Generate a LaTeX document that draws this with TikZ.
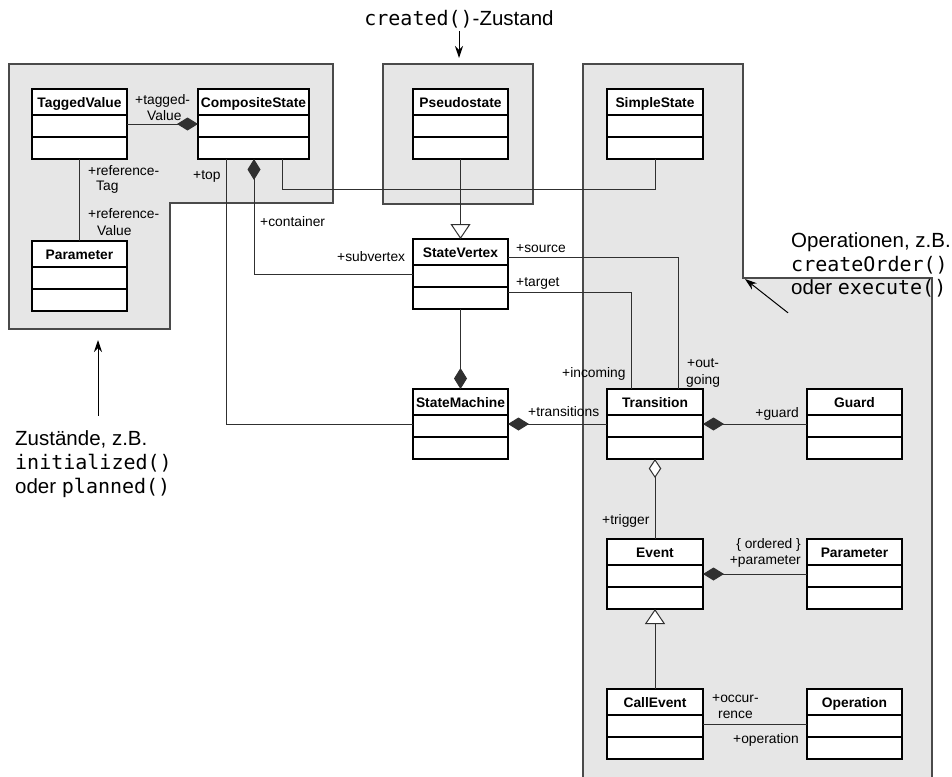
\documentclass[tikz,border=0pt]{standalone}
\usepackage{fontspec}
\setmainfont{Liberation Sans}
\newfontfamily\monofont{DejaVu Sans Mono}
\usetikzlibrary{arrows.meta,calc}

\definecolor{pkgfill}{HTML}{E6E6E6}
\definecolor{pkgline}{HTML}{4A4A4A}
\definecolor{wirecol}{HTML}{303030}

\newcommand\mcode[1]{{\monofont\fontsize{20}{24}\selectfont #1}}

\tikzset{
  diafill/.tip={Diamond[length=21pt,width=13pt]},
  diaopen/.tip={Diamond[length=19pt,width=12.5pt,fill=white]},
  gentri/.tip={Triangle[length=15pt,width=20pt,fill=white]},
  annhead/.tip={Stealth[length=12pt,width=8pt]},
  pkg/.style={fill=pkgfill, draw=pkgline, line width=1.3pt},
  clsbox/.style={draw=black, fill=white, line width=1.2pt, minimum height=70pt,
                 inner sep=0pt, outer sep=0pt},
  clstitle/.style={font=\fontsize{13.8}{15}\selectfont\bfseries, inner sep=0pt},
  clsline/.style={draw=black, line width=1.2pt},
  wire/.style={draw=wirecol, line width=1pt},
  role/.style={font=\fontsize{13.8}{15}\selectfont, inner sep=0pt},
  annot/.style={font=\fontsize{20.5}{24}\selectfont, inner sep=0pt},
  annarrow/.style={draw=black, line width=1pt, arrows={-annhead}},
}

% UML class box: name, left, top, width, title
\newcommand\umlclass[5]{%
  \node[clsbox, minimum width=#4pt, anchor=north west] (#1) at (#2,#3) {};
  \node[clstitle, anchor=base] (#1-name) at ($(#1.north)+(0,18)$) {#5};
  \draw[clsline] ($(#1.north west)+(0,26)$) -- ($(#1.north east)+(0,26)$);
  \draw[clsline] ($(#1.north west)+(0,48)$) -- ($(#1.north east)+(0,48)$);
}

\begin{document}
\begin{tikzpicture}[x=1pt,y=-1pt]
\useasboundingbox (0,0) rectangle (952,776);

% packages
\draw[pkg] (9,64) -- (333,64) -- (333,203) -- (170,203) -- (170,329) -- (9,329) -- cycle;
\draw[pkg] (383,64) rectangle (533,204);
\draw[pkg] (583,800) -- (583,64) -- (743,64) -- (743,278) -- (932,278) -- (932,800);

% classes
\umlclass{tv}{32}{89}{95}{TaggedValue}
\umlclass{cs}{198}{89}{111}{CompositeState}
\umlclass{par1}{32}{241}{95}{Parameter}
\umlclass{ps}{413}{89}{95}{Pseudostate}
\umlclass{ss}{607}{89}{96}{SimpleState}
\umlclass{sv}{413}{239}{95}{StateVertex}
\umlclass{sm}{413}{389}{95}{StateMachine}
\umlclass{tr}{607}{389}{96}{Transition}
\umlclass{gd}{807}{389}{95}{Guard}
\umlclass{ev}{607}{539}{96}{Event}
\umlclass{par2}{807}{539}{95}{Parameter}
\umlclass{ce}{607}{689}{96}{CallEvent}
\umlclass{op}{807}{689}{95}{Operation}

% associations
\draw[wire, arrows={-diafill}] (tv.east) -- (cs.west);
\draw[wire] (tv.south) -- (par1.north);
\draw[wire] ([xshift=28pt]cs.south west) |- (sm.west);
\draw[wire, arrows={diafill-}] ([xshift=56pt]cs.south west) |- (sv.west);
\draw[wire] ([xshift=84pt]cs.south west) -- ++(0,30) -| (ss.south);
\draw[wire, arrows={-gentri}] (ps.south) -- (sv.north);
\draw[wire] ([yshift=-18pt]sv.north east) -| ([xshift=71pt]tr.north west);
\draw[wire] ([yshift=-53pt]sv.north east) -| ([xshift=24pt]tr.north west);
\draw[wire, arrows={-diafill}] (sv.south) -- (sm.north);
\draw[wire, arrows={diafill-}] (sm.east) -- (tr.west);
\draw[wire, arrows={diafill-}] (tr.east) -- (gd.west);
\draw[wire, arrows={diaopen-}] (tr.south) -- (ev.north);
\draw[wire, arrows={diafill-}] (ev.east) -- (par2.west);
\draw[wire, arrows={-gentri}] (ce.north) -- (ev.south);
\draw[wire] (ce.east) -- (op.west);

% role names
\node[role, anchor=base west] (lb-tv1) at (135,104) {+tagged-};
\node[role, anchor=base west] (lb-tv2) at (147,120) {Value};
\node[role, anchor=base west] (lb-rt1) at (88,175) {+reference-};
\node[role, anchor=base west] (lb-rt2) at (96,190) {Tag};
\node[role, anchor=base west] (lb-rv1) at (88,218) {+reference-};
\node[role, anchor=base west] (lb-rv2) at (97,235) {Value};
\node[role, anchor=base west] (lb-top) at (193,179) {+top};
\node[role, anchor=base west] (lb-cont) at (260,226) {+container};
\node[role, anchor=base west] (lb-subv) at (337,261) {+subvertex};
\node[role, anchor=base west] (lb-src) at (516,252) {+source};
\node[role, anchor=base west] (lb-tgt) at (516,286) {+target};
\node[role, anchor=base west] (lb-inc) at (562,377) {+incoming};
\node[role, anchor=base west] (lb-out1) at (687,367) {+out-};
\node[role, anchor=base west] (lb-out2) at (686,384) {going};
\node[role, anchor=base west] (lb-trans) at (528,416) {+transitions};
\node[role, anchor=base east] (lb-guard) at (799,417) {+guard};
\node[role, anchor=base west] (lb-trig) at (602,524) {+trigger};
\node[role, anchor=base east] (lb-ord) at (801,548) {\{ ordered \}};
\node[role, anchor=base east] (lb-par) at (801,564) {+parameter};
\node[role, anchor=base west] (lb-occ1) at (712,702) {+occur-};
\node[role, anchor=base west] (lb-occ2) at (718,718) {rence};
\node[role, anchor=base east] (lb-oper) at (799,743) {+operation};

% notes
\node[annot, anchor=base] (note-top) at (459,26) {\mcode{created()}-Zustand};
\coordinate (note-top-tip) at (459,58);
\draw[annarrow, shorten <=2pt] (note-top.south) -- (note-top-tip);

\node[annot, anchor=base west] (note-l1) at (15,445) {Zustände, z.B.};
\node[annot, anchor=base west] (note-l2) at (15,469) {\mcode{initialized()}};
\node[annot, anchor=base west] (note-l3) at (15,493) {oder \mcode{planned()}};
\coordinate (note-l-tip) at (98,340);
\draw[annarrow, shorten <=14pt] (note-l1.north -| note-l-tip) -- (note-l-tip);

\node[annot, anchor=base west] (note-r1) at (791,247) {Operationen, z.B.};
\node[annot, anchor=base west] (note-r2) at (791,271) {\mcode{createOrder()}};
\node[annot, anchor=base west] (note-r3) at (791,294) {oder \mcode{execute()}};
\coordinate (note-r-tip) at (745,279);
\draw[annarrow] ($(note-r3.south west)+(-3,16)$) -- (note-r-tip);
\end{tikzpicture}
\end{document}
